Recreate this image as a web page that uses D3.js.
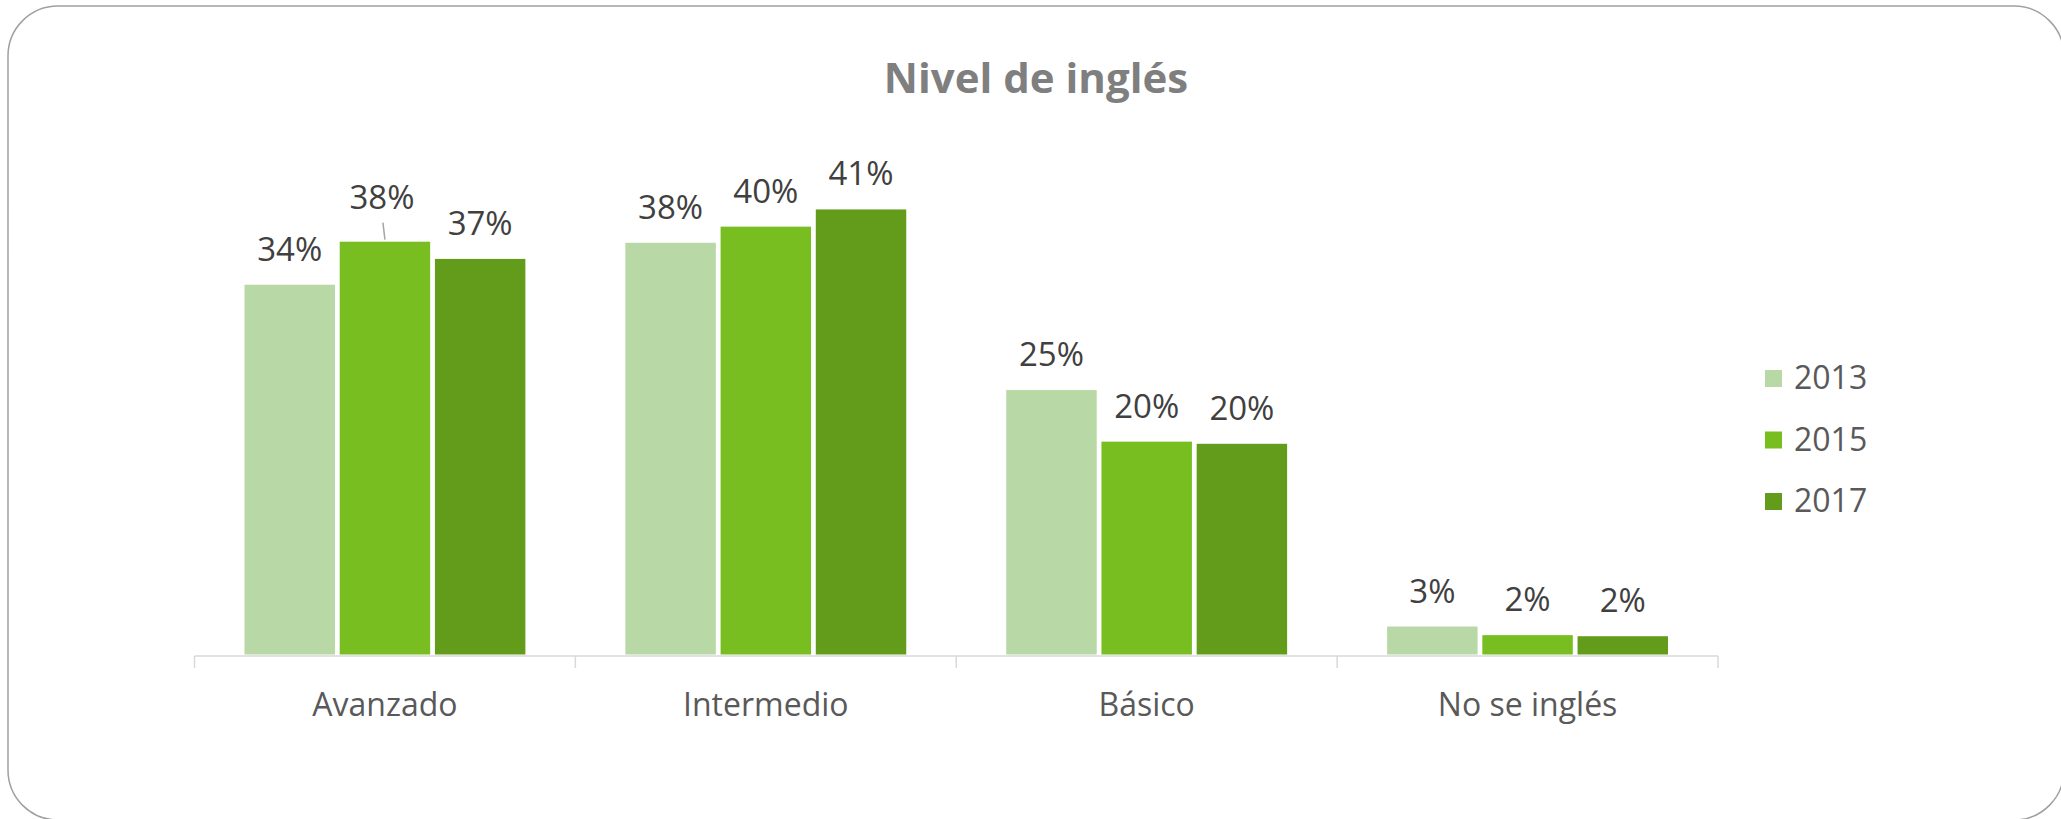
<!DOCTYPE html>
<html>
<head>
<meta charset="utf-8">
<script src="https://cdn.jsdelivr.net/npm/d3@7"></script>
<style>
  body { margin: 0; background: #fff; }
  svg { display: block; font-family: "Open Sans", sans-serif; }
</style>
</head>
<body>
<svg id="chart" width="2061" height="819"></svg>
<script>
// Data
const categories = ['Avanzado', 'Intermedio', 'Básico', 'No se inglés'];
const years = ['2013', '2015', '2017'];
const values2013 = [0.344, 0.383, 0.246, 0.026];
const values2015 = [0.384, 0.398, 0.198, 0.018];
const values2017 = [0.368, 0.414, 0.196, 0.017];
const colors = ['#B8D8A5', '#78BE21', '#629C1A'];

const series = [values2013, values2015, values2017];
const svg = d3.select('#chart');

// Chart frame with rounded corners (runs slightly off the right/bottom edge)
svg.append('rect')
  .attr('x', 8).attr('y', 6)
  .attr('width', 2056).attr('height', 814)
  .attr('rx', 50).attr('ry', 50)
  .attr('fill', '#fff')
  .attr('stroke', '#A0A0A0')
  .attr('stroke-width', 1.5);

// Title
svg.append('text')
  .attr('x', 1036).attr('y', 93)
  .attr('text-anchor', 'middle')
  .attr('font-size', 42)
  .attr('font-weight', 'bold')
  .attr('fill', '#7F7F7F')
  .text('Nivel de inglés');

// Scales
const x0 = d3.scaleBand().domain(categories).range([194.5, 1718]).padding(0);
const x1 = d3.scaleBand().domain(years)
  .range([50, x0.bandwidth() - 50])
  .paddingInner(0.05);
const y = d3.scaleLinear().domain([0, 0.45]).range([654.5, 654.5 - 10.75 * 45]);
const color = d3.scaleOrdinal().domain(years).range(colors);
const fmt = d3.format('.0%');

// Rows: one per category, each with the three years
const rows = categories.map((c, i) => ({
  category: c,
  bars: years.map((yr, j) => ({ year: yr, value: series[j][i], category: c }))
}));

const groups = svg.selectAll('.group')
  .data(rows)
  .enter()
  .append('g')
  .attr('class', 'group')
  .attr('transform', d => `translate(${x0(d.category)},0)`);

groups.selectAll('rect')
  .data(d => d.bars)
  .enter()
  .append('rect')
  .attr('x', d => x1(d.year))
  .attr('y', d => y(d.value))
  .attr('width', x1.bandwidth())
  .attr('height', d => y(0) - y(d.value))
  .attr('fill', d => color(d.year));

// Data labels, the 2015 "Avanzado" label was dragged up in the original and has a leader line
const moved = d => d.category === 'Avanzado' && d.year === '2015';
groups.selectAll('.value-label')
  .data(d => d.bars)
  .enter()
  .append('text')
  .attr('class', 'value-label')
  .attr('x', d => x1(d.year) + x1.bandwidth() / 2 + (moved(d) ? -3 : 0))
  .attr('y', d => y(d.value) - 24 - (moved(d) ? 9 : 0))
  .attr('text-anchor', 'middle')
  .attr('font-size', 33)
  .attr('fill', '#404040')
  .text(d => fmt(d.value));

groups.filter(d => d.category === 'Avanzado')
  .append('line')
  .attr('x1', x1('2015') + x1.bandwidth() / 2)
  .attr('y1', y(values2015[0]) - 2)
  .attr('x2', x1('2015') + x1.bandwidth() / 2 - 2)
  .attr('y2', y(values2015[0]) - 19)
  .attr('stroke', '#A6A6A6')
  .attr('stroke-width', 1.5);

// Category axis
const axisY = 656;
svg.append('line')
  .attr('x1', x0.range()[0]).attr('x2', x0.range()[1])
  .attr('y1', axisY).attr('y2', axisY)
  .attr('stroke', '#D9D9D9').attr('stroke-width', 1.5);

const tickXs = categories.map(c => x0(c)).concat([x0.range()[1]]);
svg.selectAll('.tick-mark')
  .data(tickXs)
  .enter()
  .append('line')
  .attr('class', 'tick-mark')
  .attr('x1', d => d).attr('x2', d => d)
  .attr('y1', axisY).attr('y2', axisY + 12)
  .attr('stroke', '#D9D9D9').attr('stroke-width', 1.5);

svg.selectAll('.cat-label')
  .data(categories)
  .enter()
  .append('text')
  .attr('class', 'cat-label')
  .attr('x', d => x0(d) + x0.bandwidth() / 2)
  .attr('y', 716)
  .attr('text-anchor', 'middle')
  .attr('font-size', 32)
  .attr('fill', '#595959')
  .text(d => d);

// Legend
const legend = svg.selectAll('.legend')
  .data(years)
  .enter()
  .append('g')
  .attr('class', 'legend')
  .attr('transform', (d, i) => `translate(1765, ${370 + i * 61.5})`);

legend.append('rect')
  .attr('width', 17).attr('height', 17)
  .attr('fill', d => color(d));

legend.append('text')
  .attr('x', 29).attr('y', 19)
  .attr('font-size', 32)
  .attr('fill', '#595959')
  .text(d => d);
</script>
</body>
</html>
